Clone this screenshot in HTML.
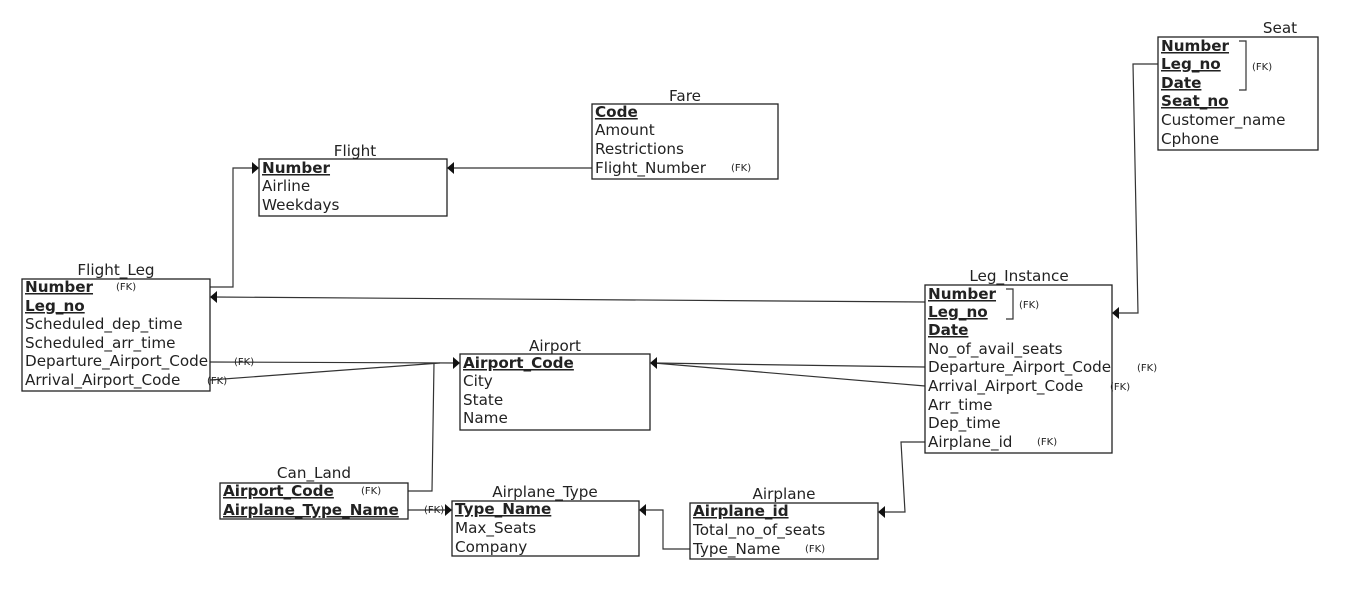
<!DOCTYPE html>
<html><head><meta charset="utf-8"><style>
html,body{margin:0;padding:0;background:#fff;}
svg{display:block;}
text{font-family:"DejaVu Sans","Liberation Sans",sans-serif;font-size:15.2px;fill:#222;}
.k{font-weight:bold;text-decoration:underline;}
.fk{font-size:10px;}
.t{text-anchor:middle;}
rect{fill:#fff;stroke:#222;stroke-width:1.3;}
.l{fill:none;stroke:#333;stroke-width:1.2;}
.a{fill:#111;}
</style></head><body>
<svg width="1363" height="591" viewBox="0 0 1363 591">
<polyline class="l" points="592,168 451,168"/>
<polygon class="a" points="447,168 454,162 454,174"/>
<polyline class="l" points="210,287 233,287 233,168 255,168"/>
<polygon class="a" points="259,168 252,162 252,174"/>
<polyline class="l" points="925,302 214,297"/>
<polygon class="a" points="210,297 217,291 217,303"/>
<polyline class="l" points="210,362 456,363"/>
<polyline class="l" points="210,380 440,363"/>
<polyline class="l" points="408,491 432,491 434,363"/>
<polygon class="a" points="460,363 453,357 453,369"/>
<polyline class="l" points="408,510 448,510"/>
<polygon class="a" points="452,510 445,504 445,516"/>
<polyline class="l" points="925,367 654,363"/>
<polyline class="l" points="925,386 654,363"/>
<polygon class="a" points="650,363 657,357 657,369"/>
<polyline class="l" points="925,442 901,442 905,512 882,512"/>
<polygon class="a" points="878,512 885,506 885,518"/>
<polyline class="l" points="690,549 663,549 663,510 643,510"/>
<polygon class="a" points="639,510 646,504 646,516"/>
<polyline class="l" points="1158,64 1133,64 1138,313 1116,313"/>
<polygon class="a" points="1112,313 1119,307 1119,319"/>

<text class="t" x="1280" y="33">Seat</text>
<rect x="1158" y="37" width="160" height="113"/>
<text class="k" x="1161" y="51">Number</text>
<text class="k" x="1161" y="69">Leg_no</text>
<text class="k" x="1161" y="88">Date</text>
<text class="k" x="1161" y="106">Seat_no</text>
<text x="1161" y="125">Customer_name</text>
<text x="1161" y="144">Cphone</text>
<polyline class="l" points="1239,41 1246,41 1246,90 1239,90"/>
<text class="fk" x="1252" y="70">(FK)</text>

<text class="t" x="685" y="101">Fare</text>
<rect x="592" y="104" width="186" height="75"/>
<text class="k" x="595" y="117">Code</text>
<text x="595" y="135">Amount</text>
<text x="595" y="154">Restrictions</text>
<text x="595" y="173">Flight_Number</text>
<text class="fk" x="731" y="171">(FK)</text>

<text class="t" x="355" y="156">Flight</text>
<rect x="259" y="159" width="188" height="57"/>
<text class="k" x="262" y="173">Number</text>
<text x="262" y="191">Airline</text>
<text x="262" y="210">Weekdays</text>

<text class="t" x="116" y="275">Flight_Leg</text>
<rect x="22" y="279" width="188" height="112"/>
<text class="k" x="25" y="292">Number</text>
<text class="fk" x="116" y="290">(FK)</text>
<text class="k" x="25" y="311">Leg_no</text>
<text x="25" y="329">Scheduled_dep_time</text>
<text x="25" y="348">Scheduled_arr_time</text>
<text x="25" y="366">Departure_Airport_Code</text>
<text x="25" y="385">Arrival_Airport_Code</text>
<text class="fk" x="234" y="365">(FK)</text>
<text class="fk" x="207" y="384">(FK)</text>

<text class="t" x="555" y="351">Airport</text>
<rect x="460" y="354" width="190" height="76"/>
<text class="k" x="463" y="368">Airport_Code</text>
<text x="463" y="386">City</text>
<text x="463" y="405">State</text>
<text x="463" y="423">Name</text>

<text class="t" x="1019" y="281">Leg_Instance</text>
<rect x="925" y="285" width="187" height="168"/>
<text class="k" x="928" y="299">Number</text>
<text class="k" x="928" y="317">Leg_no</text>
<text class="k" x="928" y="335">Date</text>
<text x="928" y="354">No_of_avail_seats</text>
<text x="928" y="372">Departure_Airport_Code</text>
<text x="928" y="391">Arrival_Airport_Code</text>
<text x="928" y="410">Arr_time</text>
<text x="928" y="428">Dep_time</text>
<text x="928" y="447">Airplane_id</text>
<polyline class="l" points="1006,289 1013,289 1013,319 1006,319"/>
<text class="fk" x="1019" y="308">(FK)</text>
<text class="fk" x="1137" y="371">(FK)</text>
<text class="fk" x="1110" y="390">(FK)</text>
<text class="fk" x="1037" y="445">(FK)</text>

<text class="t" x="314" y="478">Can_Land</text>
<rect x="220" y="483" width="188" height="36"/>
<text class="k" x="223" y="496">Airport_Code</text>
<text class="fk" x="361" y="494">(FK)</text>
<text class="k" x="223" y="515">Airplane_Type_Name</text>
<text class="fk" x="424" y="513">(FK)</text>

<text class="t" x="545" y="497">Airplane_Type</text>
<rect x="452" y="501" width="187" height="55"/>
<text class="k" x="455" y="514">Type_Name</text>
<text x="455" y="533">Max_Seats</text>
<text x="455" y="552">Company</text>

<text class="t" x="784" y="499">Airplane</text>
<rect x="690" y="503" width="188" height="56"/>
<text class="k" x="693" y="516">Airplane_id</text>
<text x="693" y="535">Total_no_of_seats</text>
<text x="693" y="554">Type_Name</text>
<text class="fk" x="805" y="552">(FK)</text>
</svg>
</body></html>
